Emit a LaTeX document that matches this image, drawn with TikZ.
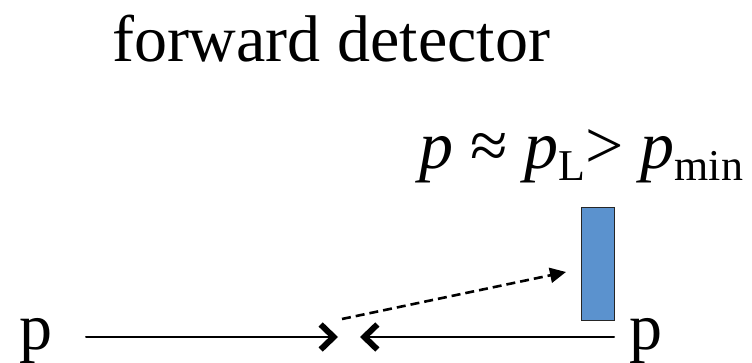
\documentclass[tikz,border=0pt]{standalone}
\usepackage{fontspec}
\setmainfont{Liberation Serif}
\usepackage{xcolor}
\usetikzlibrary{arrows.meta, positioning}
\definecolor{detblue}{RGB}{91,146,206}
\newcommand{\lowsub}[1]{\raisebox{-12pt}{\fontsize{44}{44}\selectfont #1}}

\begin{document}
\begin{tikzpicture}[x=1pt, y=1pt, font=\fontsize{66}{70}\selectfont,
    lbl/.style={inner sep=0pt, anchor=base west},
    det/.style={draw=black!85, line width=1.2pt, fill=detblue, inner sep=0pt, minimum width=33pt, minimum height=113pt, anchor=south west},
    beam/.style={line width=2pt, line cap=round, -{Straight Barb[length=13pt, width=25pt, line width=6pt]}},
    scat/.style={line width=2.6pt, dash pattern=on 9pt off 5pt, -{Triangle[length=16pt, width=15pt]}}]
    \useasboundingbox (0,0) rectangle (752,363);
    \node[lbl, anchor=base] (title) at (331,301) {forward detector};
    \node[lbl, font=\fontsize{68}{72}\selectfont] (cond) at (419,194) {\textit{p} ≈ \textit{p}\lowsub{L}> \textit{p}\lowsub{min}};
    \node[lbl] (pin) at (19,13) {p};
    \node[lbl] (pout) at (629,13) {p};
    \node[det] (fd) at (581,42) {};
    \coordinate (inA) at (86,26); \coordinate (hitA) at (338,26);
    \coordinate (inB) at (614,26); \coordinate (hitB) at (360,26);
    \coordinate (vtx) at (342,44); \coordinate (aim) at (566,91);
    \draw[beam] (inA) -- (hitA);
    \draw[beam] (inB) -- (hitB);
    \draw[scat] (vtx) -- (aim);
\end{tikzpicture}
\end{document}
